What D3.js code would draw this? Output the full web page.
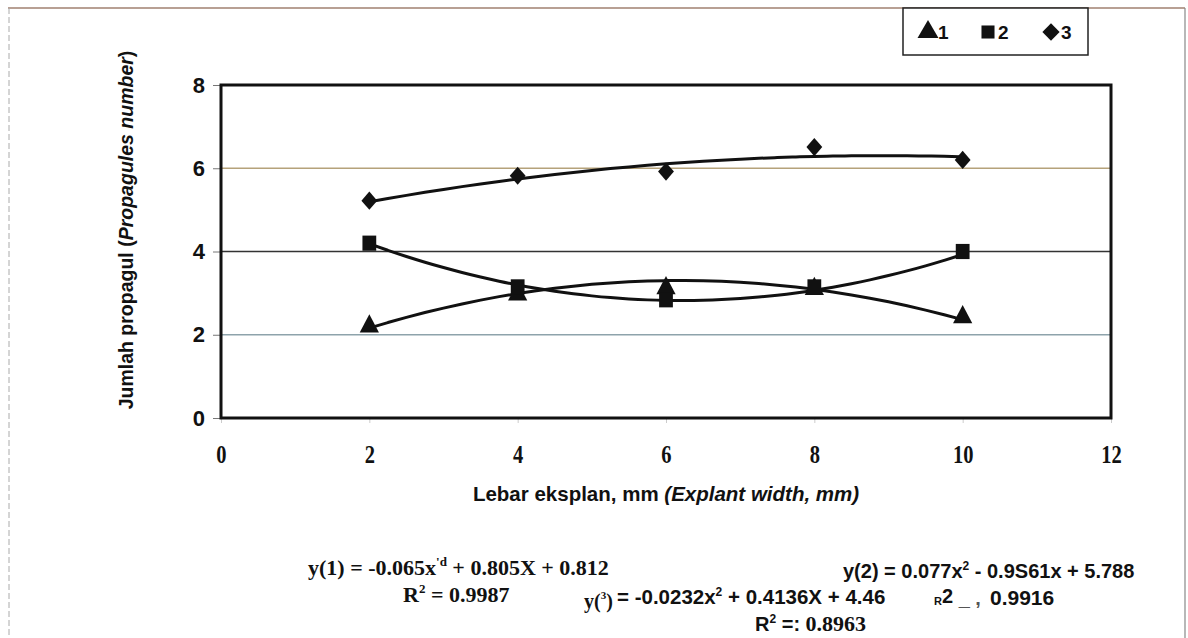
<!DOCTYPE html>
<meta charset="utf-8">
<style>
    body { margin: 0; background: #fff; }
    text { font-family: "Liberation Sans", Arial, sans-serif; font-weight: bold; fill: #111; }
    .serif { font-family: "Liberation Serif", "Times New Roman", serif; }
</style>
<svg width="1188" height="638"></svg>

<script src="https://d3js.org/d3.v7.min.js"></script>
<script>
    var xValues = [2, 4, 6, 8, 10];
    var series1 = [2.2, 2.97, 3.12, 3.1, 2.42];
    var series2 = [4.2, 3.15, 2.84, 3.15, 4.0];
    var series3 = [5.22, 5.82, 5.92, 6.51, 6.2];
    // trendline coefficients (a, b, c) of y = a x^2 + b x + c, as printed
    var trend1 = [-0.065, 0.805, 0.812];
    var trend2 = [0.077, -0.9561, 5.788];
    var trend3 = [-0.0232, 0.4136, 4.46];
    var xTicks = [0, 2, 4, 6, 8, 10, 12];
    var yTicks = [0, 2, 4, 6, 8];
    var legendLabels = ["1", "2", "3"];

    (function () {
        var svg = d3.select("svg"),
            left = 221, right = 1111, top = 85, bottom = 418,
            x = d3.scaleLinear().domain([0, 12]).range([left, right]),
            y = d3.scaleLinear().domain([0, 8]).range([bottom, top]),
            gridColors = { 2: "#8ea3ab", 4: "#333", 6: "#b5a27a" };

        // outer chart frame (scanned look)
        svg.append("line").attr("x1", 8).attr("x2", 1185).attr("y1", 8).attr("y2", 8)
            .attr("stroke", "#a08070").attr("stroke-width", 1.5);
        svg.append("line").attr("x1", 9).attr("x2", 9).attr("y1", 8).attr("y2", 638)
            .attr("stroke", "#aaa").attr("stroke-dasharray", "6,3");
        svg.append("line").attr("x1", 1185).attr("x2", 1185).attr("y1", 8).attr("y2", 638)
            .attr("stroke", "#888").attr("stroke-width", 1.2);

        // gridlines
        svg.append("g").selectAll("line")
            .data(yTicks.filter(function (d) { return d > 0 && d < 8; }))
            .enter().append("line")
            .attr("x1", left).attr("x2", right)
            .attr("y1", function (d) { return y(d); })
            .attr("y2", function (d) { return y(d); })
            .attr("stroke", function (d) { return gridColors[d]; })
            .attr("stroke-width", 1.3);

        // axes
        var yAxis = svg.append("g")
            .attr("transform", "translate(" + left + ",0)")
            .call(d3.axisLeft(y).tickValues(yTicks).tickSize(8).tickPadding(8));
        yAxis.select(".domain").remove();
        yAxis.selectAll("line").attr("stroke", "#777");
        yAxis.selectAll("text").attr("font-size", 22).attr("fill", "#111")
            .style("font-family", "Liberation Sans, Arial, sans-serif").style("font-weight", "bold");

        var xAxis = svg.append("g")
            .attr("transform", "translate(0," + bottom + ")")
            .call(d3.axisBottom(x).tickValues(xTicks).tickSize(5).tickPadding(22));
        xAxis.select(".domain").remove();
        xAxis.selectAll("line").attr("stroke", "#ccc");
        xAxis.selectAll("text").attr("font-size", 25).attr("fill", "#111")
            .attr("transform", "scale(0.82,1)")
            .style("font-family", "Liberation Serif, Times New Roman, serif").style("font-weight", "bold");

        // plot frame
        svg.append("rect")
            .attr("x", left).attr("y", top)
            .attr("width", right - left).attr("height", bottom - top)
            .attr("fill", "none").attr("stroke", "#111").attr("stroke-width", 3);

        // trend curves
        var line = d3.line()
            .x(function (d) { return x(d[0]); })
            .y(function (d) { return y(d[1]); })
            .curve(d3.curveBasis);
        [trend1, trend2, trend3].forEach(function (c) {
            var pts = d3.range(2, 10.001, 0.25).map(function (v) {
                return [v, c[0] * v * v + c[1] * v + c[2]];
            });
            svg.append("path").datum(pts)
                .attr("d", line)
                .attr("fill", "none").attr("stroke", "#111").attr("stroke-width", 3);
        });

        // markers
        var triangle = d3.symbol().type(d3.symbolTriangle).size(160),
            square = d3.symbol().type(d3.symbolSquare).size(190),
            diamond = d3.symbol().type(d3.symbolDiamond2).size(160);

        function drawSeries(vals, sym, sx, sy) {
            svg.append("g").selectAll("path")
                .data(vals)
                .enter().append("path")
                .attr("d", sym)
                .attr("fill", "#111")
                .attr("transform", function (d, i) {
                    return "translate(" + x(xValues[i]) + "," + y(d) + ") scale(" + sx + "," + sy + ")";
                });
        }
        drawSeries(series1, triangle, 1, 1.1);
        drawSeries(series2, square, 1, 1.1);
        drawSeries(series3, diamond, 1, 1.15);

        // axis titles
        var yTitle = svg.append("text")
            .attr("transform", "translate(133,230) rotate(-90)")
            .attr("text-anchor", "middle").attr("font-size", 19.5);
        yTitle.append("tspan").text("Jumlah propagul (");
        yTitle.append("tspan").attr("font-style", "italic").text("Propagules number");
        yTitle.append("tspan").text(")");

        var xTitle = svg.append("text")
            .attr("x", 666).attr("y", 501)
            .attr("text-anchor", "middle").attr("font-size", 20.5);
        xTitle.append("tspan").text("Lebar eksplan, mm ");
        xTitle.append("tspan").attr("font-style", "italic").text("(Explant width, mm)");

        // legend
        svg.append("rect").attr("x", 903).attr("y", 8).attr("width", 185).attr("height", 47)
            .attr("fill", "#fff").attr("stroke", "#222").attr("stroke-width", 1.5);
        var legendSyms = [
            d3.symbol().type(d3.symbolTriangle).size(190),
            d3.symbol().type(d3.symbolSquare).size(170),
            d3.symbol().type(d3.symbolDiamond2).size(190)
        ];
        var legendX = [928, 988, 1051];
        legendLabels.forEach(function (lab, i) {
            var lx = legendX[i];
            svg.append("path").attr("d", legendSyms[i]())
                .attr("fill", "#111")
                .attr("transform", "translate(" + lx + ",32)");
            svg.append("text").attr("x", lx + 10).attr("y", 39)
                .attr("font-size", 19).text(lab);
        });

        // equations
        var eq1 = svg.append("text").attr("class", "serif").attr("x", 308).attr("y", 575).attr("font-size", 22);
        eq1.append("tspan").text("y(1) = -0.065x");
        eq1.append("tspan").attr("dy", -9).attr("font-size", 13).text("'d");
        eq1.append("tspan").attr("dy", 9).text(" + 0.805X + 0.812");

        var r1 = svg.append("text").attr("class", "serif").attr("x", 403).attr("y", 602).attr("font-size", 22);
        r1.append("tspan").text("R");
        r1.append("tspan").attr("dy", -9).attr("font-size", 13).text("2");
        r1.append("tspan").attr("dy", 9).text(" = 0.9987");

        var eq3a = svg.append("text").attr("class", "serif").attr("x", 584).attr("y", 608).attr("font-size", 20);
        eq3a.append("tspan").text("y(");
        eq3a.append("tspan").attr("dy", -9).attr("font-size", 11).text("3");
        eq3a.append("tspan").attr("dy", 9).text(")");
        var eq3b = svg.append("text").attr("x", 617).attr("y", 604).attr("font-size", 20.5);
        eq3b.append("tspan").text("= -0.0232x");
        eq3b.append("tspan").attr("dy", -8).attr("font-size", 12).text("2");
        eq3b.append("tspan").attr("dy", 8).text(" + 0.4136X + 4.46");

        var r3 = svg.append("text").attr("x", 755).attr("y", 631).attr("font-size", 20);
        r3.append("tspan").text("R");
        r3.append("tspan").attr("dy", -8).attr("font-size", 12).text("2");
        r3.append("tspan").attr("dy", 8).text(" =: ");
        r3.append("tspan").style("font-family", "Liberation Serif, serif").attr("font-size", 22).text("0.8963");

        var eq2 = svg.append("text").attr("x", 843).attr("y", 578).attr("font-size", 20);
        eq2.append("tspan").text("y(2) = 0.077x");
        eq2.append("tspan").attr("dy", -8).attr("font-size", 12).text("2");
        eq2.append("tspan").attr("dy", 8).text(" - 0.9S61x + 5.788");

        var r2 = svg.append("text").attr("x", 934).attr("y", 605).attr("font-size", 20);
        r2.append("tspan").attr("font-size", 11).text("R");
        r2.append("tspan").attr("dy", -2).text("2");
        r2.append("tspan").attr("dy", 2).attr("fill", "#555").text(" _ ,");
        svg.append("text").attr("x", 990).attr("y", 605).attr("font-size", 21)
            .attr("fill", "#333").text("0.9916");
    })();
</script>
